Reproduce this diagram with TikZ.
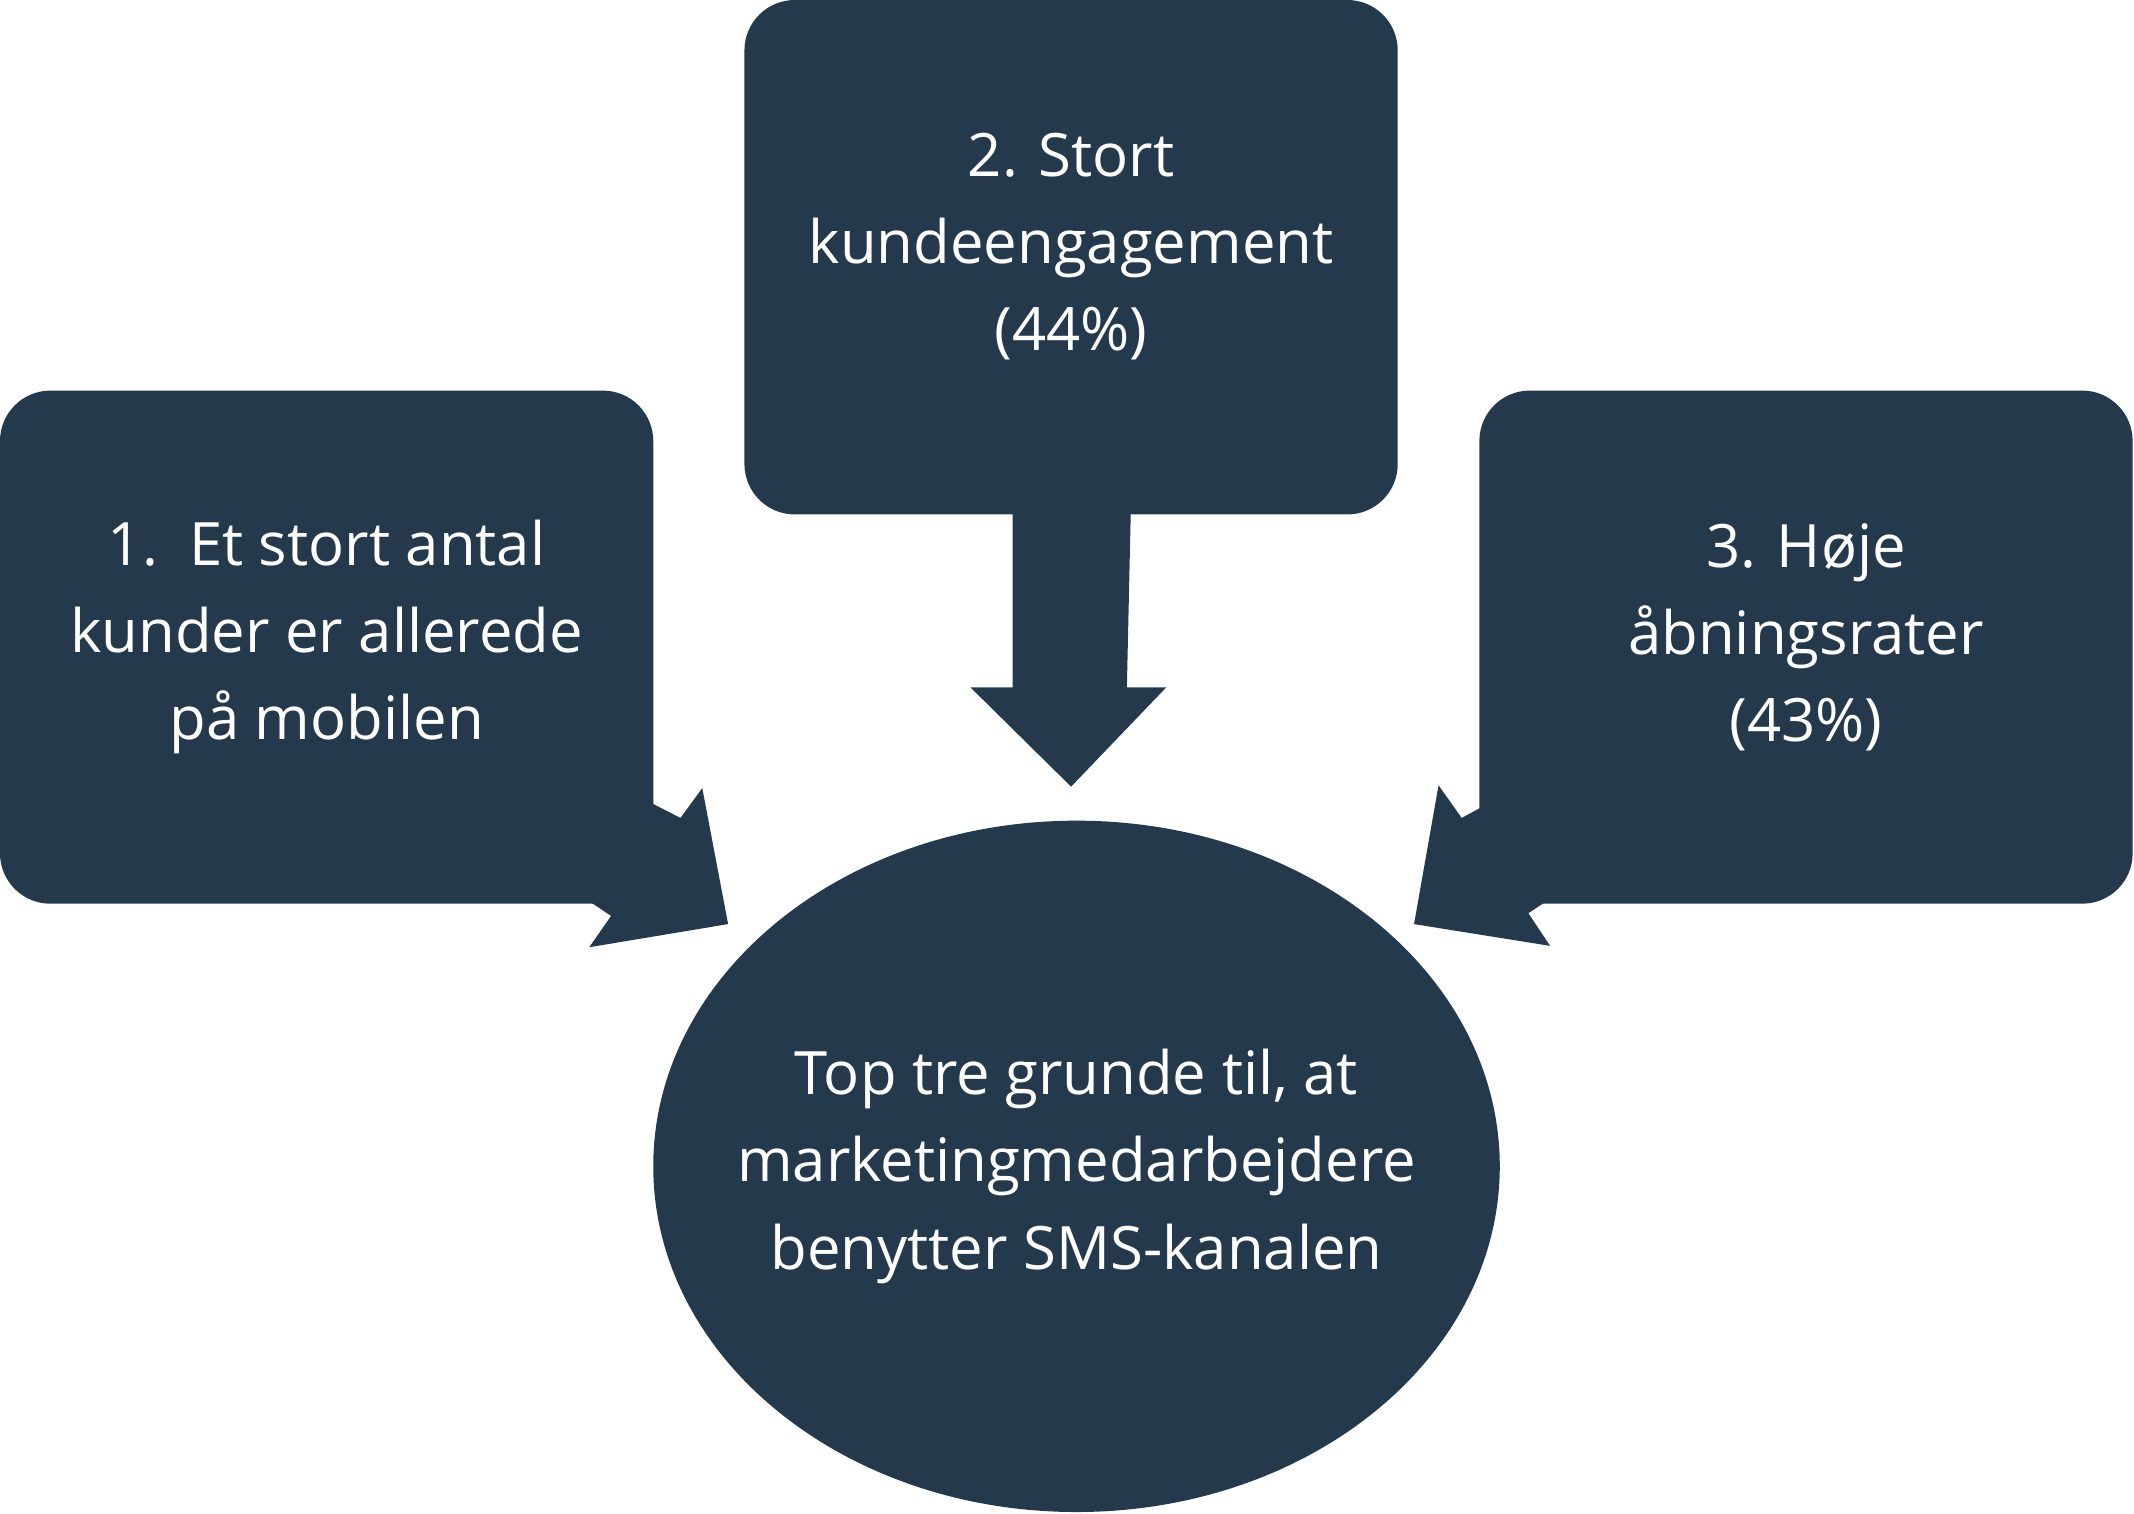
\documentclass[tikz,border=0pt]{standalone}
\usepackage{fontspec}
\setmainfont{Open Sans}
\usetikzlibrary{positioning}
\definecolor{slate}{HTML}{243A4C}

\begin{document}
\begin{tikzpicture}[x=0.01cm,y=-0.01cm,
                    box node/.style={fill=slate,rounded corners=0.37cm,draw=none},
                    label node/.style={text=white,align=center,font=\fontsize{12.5}{18.2}\selectfont},
                    arrow shape/.style={fill=slate,draw=none}]
  \useasboundingbox (0,0) rectangle (1568,1112);
  % boxes and circle
  \fill[box node] (0,287) rectangle (480,664);
  \fill[box node] (547,0) rectangle (1027,378);
  \fill[box node] (1087,287) rectangle (1567,664);
  \fill[slate] (791,857) ellipse [x radius=311, y radius=254];
  % arrows
  \fill[arrow shape] (420,560) -- (500,601) -- (516,579) -- (535,679) -- (433,696) -- (449,673) -- (400,640) -- cycle;
  \fill[arrow shape] (1150,560) -- (1074,601) -- (1057,577) -- (1039,679) -- (1139,695) -- (1123,671) -- (1170,640) -- cycle;
  \fill[arrow shape] (744,370) -- (831,370) -- (828,505) -- (857,505) -- (787,578) -- (713,505) -- (744,505) -- cycle;
  % texts
  \node[label node] (reason1) at (240,468) {1.\ \ Et stort antal\\kunder er allerede\\på mobilen};
  \node[label node] (reason2) at (787,181) {2. Stort\\kundeengagement\\(44\%)};
  \node[label node] (reason3) at (1327,468) {3. Høje\\åbningsrater\\(43\%)};
  \node[label node] (main) at (791,857) {Top tre grunde til, at\\marketingmedarbejdere\\benytter SMS-kanalen};
\end{tikzpicture}
\end{document}
